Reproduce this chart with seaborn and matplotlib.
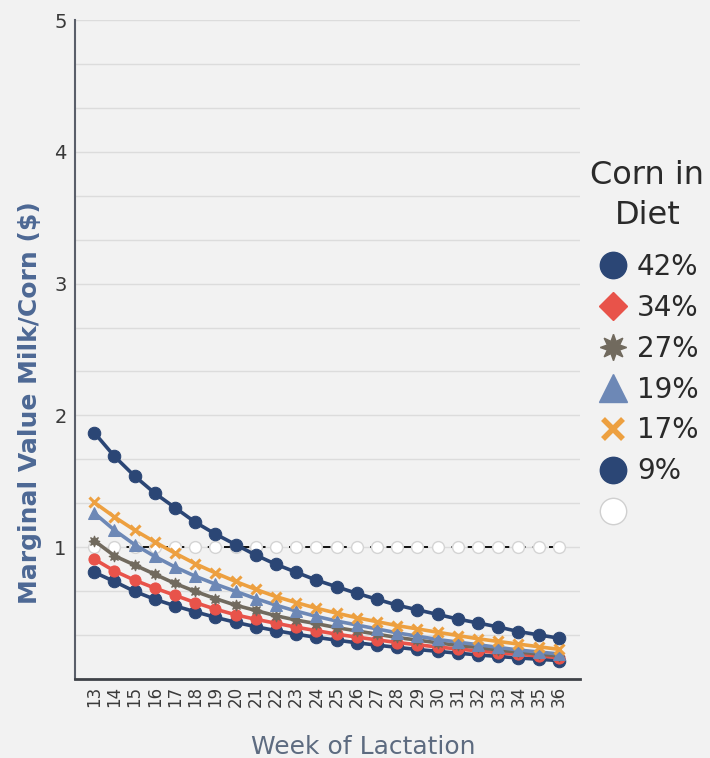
import matplotlib
matplotlib.use("Agg")
import matplotlib.pyplot as plt
from matplotlib.lines import Line2D
import numpy as np
import pandas as pd
import seaborn as sns

# ---------------- data ----------------
weeks = list(range(13, 37))
corn_42 = [1.87, 1.69, 1.54, 1.41, 1.30, 1.19, 1.10, 1.02, 0.94, 0.87, 0.81, 0.75,
           0.70, 0.65, 0.605, 0.56, 0.525, 0.49, 0.455, 0.425, 0.395, 0.36, 0.335, 0.31]
corn_34 = [0.91, 0.82, 0.75, 0.69, 0.635, 0.58, 0.53, 0.487, 0.453, 0.423, 0.393, 0.367,
           0.34, 0.318, 0.297, 0.277, 0.26, 0.243, 0.228, 0.213, 0.20, 0.187, 0.175, 0.163]
corn_27 = [1.05, 0.935, 0.865, 0.795, 0.725, 0.665, 0.61, 0.56, 0.52, 0.48, 0.447, 0.42,
           0.39, 0.365, 0.34, 0.315, 0.295, 0.275, 0.255, 0.24, 0.22, 0.205, 0.19, 0.175]
corn_19 = [1.26, 1.13, 1.02, 0.93, 0.85, 0.78, 0.72, 0.665, 0.61, 0.56, 0.515, 0.475,
           0.44, 0.41, 0.38, 0.35, 0.325, 0.30, 0.28, 0.26, 0.24, 0.22, 0.205, 0.19]
corn_17 = [1.34, 1.23, 1.13, 1.04, 0.955, 0.875, 0.805, 0.74, 0.68, 0.625, 0.58, 0.537,
           0.50, 0.465, 0.435, 0.405, 0.38, 0.355, 0.33, 0.305, 0.285, 0.265, 0.245, 0.225]
corn_9 = [0.81, 0.74, 0.665, 0.605, 0.555, 0.51, 0.468, 0.43, 0.397, 0.367, 0.34, 0.316,
          0.295, 0.275, 0.257, 0.24, 0.224, 0.21, 0.196, 0.183, 0.171, 0.16, 0.15, 0.14]
breakeven = [1.0] * 24

series_labels = ["42%", "34%", "27%", "19%", "17%", "9%", ""]
y_tick_values = [1, 2, 3, 4, 5]

# ---------------- style ----------------
BG = "#f2f2f2"
NAVY = "#2b4675"
RED = "#e8534a"
GRAY = "#716a5e"
STEEL = "#6d88b6"
ORANGE = "#eda040"
STAR = (8, 1, 0)

sns.set_theme(style="white")
plt.rcParams["font.family"] = ["DejaVu Sans"]

fig = plt.figure(figsize=(7.1, 7.58), dpi=100, facecolor=BG)
ax = fig.add_axes([0.1056, 0.1042, 0.817 - 0.1056, 0.9736 - 0.1042])
ax.set_facecolor(BG)

# dashed reference line
sns.lineplot(x=weeks, y=breakeven, ax=ax, color="black", linewidth=1.3,
             linestyle=(0, (5, 4)), marker="o", markersize=8.5,
             markerfacecolor="white", markeredgecolor="#d4d4d4", markeredgewidth=1.0,
             zorder=2)

specs = [
    (corn_9, NAVY, "o", 9, {}),
    (corn_34, RED, "o", 8, {}),
    (corn_27, GRAY, STAR, 8, {}),
    (corn_19, STEEL, "^", 9, {}),
    (corn_17, ORANGE, "x", 7, {"markeredgewidth": 2.2}),
    (corn_42, NAVY, "o", 9, {}),
]
for vals, col, mk, ms, extra in specs:
    kw = dict(markeredgecolor=col, markerfacecolor=col)
    kw.update(extra)
    sns.lineplot(x=weeks, y=vals, ax=ax, color=col, linewidth=2.6,
                 marker=mk, markersize=ms, zorder=3, **kw)

ax.set_xlim(12.05, 37.05)
ax.set_ylim(0, 5)
ax.set_xticks(weeks)
ax.set_xticklabels([str(w) for w in weeks], rotation=90, fontsize=12, color="#3a3a3a")
ax.set_yticks(y_tick_values)
ax.set_yticklabels([str(v) for v in y_tick_values], fontsize=14, color="#3a3a3a")
ax.set_yticks(np.arange(1, 15) / 3.0, minor=True)
ax.tick_params(axis="both", which="both", length=0)
ax.tick_params(axis="x", pad=5)
ax.tick_params(axis="y", pad=6)
ax.grid(axis="y", which="both", color="#dcdcdc", linewidth=1.0, zorder=0)
ax.set_axisbelow(True)

for s in ["top", "right"]:
    ax.spines[s].set_visible(False)
ax.spines["left"].set_color("#5a5f6a")
ax.spines["left"].set_linewidth(1.5)
ax.spines["bottom"].set_color("#3f4248")
ax.spines["bottom"].set_linewidth(2.0)

ax.set_xlabel("Week of Lactation", fontsize=18, color="#5d6b80")
ax.xaxis.set_label_coords(0.57, -0.085)
ax.set_ylabel("Marginal Value Milk/Corn ($)", fontsize=18, color="#4d6894", fontweight="bold")
ax.yaxis.set_label_coords(-0.066, 0.42)

# legend
handles = [
    Line2D([], [], linestyle="none", marker="o", markersize=19, color=NAVY),
    Line2D([], [], linestyle="none", marker="D", markersize=14, color=RED),
    Line2D([], [], linestyle="none", marker=STAR, markersize=19, color=GRAY),
    Line2D([], [], linestyle="none", marker="^", markersize=20, color=STEEL),
    Line2D([], [], linestyle="none", marker="x", markersize=15, color=ORANGE, markeredgewidth=4),
    Line2D([], [], linestyle="none", marker="o", markersize=19, color=NAVY),
    Line2D([], [], linestyle="none", marker="o", markersize=19, markerfacecolor="white",
           markeredgecolor="#d0d0d0"),
]
leg = fig.legend(handles, series_labels, title="Corn in\nDiet", loc="upper left",
                 bbox_to_anchor=(0.816, 0.804), frameon=False, fontsize=20,
                 title_fontsize=23, handletextpad=0.25, labelspacing=0.465,
                 handlelength=1.2, borderaxespad=0)
leg.get_title().set_multialignment("center")
leg.get_title().set_linespacing(1.37)
leg.get_title().set_color("#2a2a2a")
for t in leg.get_texts():
    t.set_color("#2a2a2a")
leg._legend_box.sep = 16

fig.savefig("out.png", dpi=100, facecolor=BG)
